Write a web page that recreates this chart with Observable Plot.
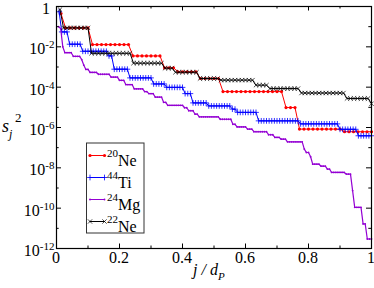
<!DOCTYPE html>
<html><head><meta charset="utf-8">
<script src="https://cdn.jsdelivr.net/npm/d3@7"></script>
<script src="https://cdn.jsdelivr.net/npm/@observablehq/plot@0.6"></script>
<style>html,body{margin:0;padding:0;background:#fff} svg{display:block}
svg text.serif, svg text.serif tspan{font-family:"Liberation Serif","Times New Roman",Times,serif !important;}
</style>
</head><body><div id="chart"></div>
<script>
// ---- data (values as log10 of s_j^2, run-length encoded: [count, exponent]) ----
const seriesNames = ["20Ne", "44Ti", "24Mg", "22Ne"];
const seriesMass = ["20", "44", "24", "22"];
const seriesElem = ["Ne", "Ti", "Mg", "Ne"];
const seriesColors = ["#ff0000", "#0000ff", "#9400d3", "#000000"];
const seriesDP = [70, 120, 150, 90];

const runs20Ne = [[1,-0.35],[6,-1.06],[9,-1.89],[7,-2.45],[3,-3.04],[5,-3.24],[5,-3.57],[14,-4.22],[3,-5.01],[10,-6.08],[7,-6.21]];
const runs44Ti = [[1,-0.26],[3,-1.26],[5,-1.87],[10,-2.22],[2,-2.45],[6,-3.11],[9,-3.54],[5,-3.84],[7,-4.01],[3,-4.32],[6,-4.78],[9,-4.93],[2,-5.09],[8,-5.25],[16,-5.67],[15,-5.82],[7,-6.09],[6,-6.41]];
const runs24Mg = [[1,-1.0],[1,-1.1],[1,-2.0],[4,-2.29],[4,-2.47],[1,-2.63],[1,-2.91],[2,-3.12],[4,-3.27],[6,-3.36],[4,-3.50],[3,-3.66],[4,-3.87],[5,-4.08],[2,-4.22],[3,-4.32],[4,-4.49],[2,-4.75],[8,-4.90],[2,-5.02],[3,-5.17],[2,-5.34],[10,-5.47],[6,-5.59],[2,-5.84],[5,-5.97],[3,-6.08],[7,-6.21],[3,-6.36],[3,-6.49],[3,-6.58],[8,-6.71],[1,-7.07],[2,-7.24],[1,-7.45],[4,-7.82],[3,-7.92],[2,-8.06],[7,-8.23],[3,-8.31],[1,-9.13],[4,-9.96],[2,-10.78],[3,-11.53]];
const runs22Ne = [[1,-0.15],[8,-1.06],[12,-2.32],[9,-2.81],[3,-3.06],[7,-3.26],[6,-3.57],[10,-3.65],[4,-3.90],[9,-4.07],[13,-4.29],[7,-4.56],[1,-4.82]];

const xMajorTicks = [0, 0.2, 0.4, 0.6, 0.8, 1];
const xMinorTicks = [0.1, 0.3, 0.5, 0.7, 0.9];
const xTickLabels = ["0", "0.2", "0.4", "0.6", "0.8", "1"];
const yMajorExps = [0, -2, -4, -6, -8, -10, -12];
const yMinorExps = [-1, -3, -5, -7, -9, -11];

// ---- layout ----
const W = 374, H = 288, mL = 56, mR = 3, mT = 6, mB = 40;
const innerW = W - mL - mR, innerH = H - mT - mB;
const SERIF = '"Liberation Serif","Times New Roman",Times,serif';

function expand(runs, n) {
  const out = []; let i = 0;
  for (const [c, e] of runs) for (let k = 0; k < c; k++) { i++; out.push({j: i / n, v: Math.pow(10, e)}); }
  return out;
}
const allRuns = [runs20Ne, runs44Ti, runs24Mg, runs22Ne];
const data = allRuns.map((r, s) => expand(r, seriesDP[s]));

// legend placement (pixel layout converted to data space)
const xInv = px => (px - mL) / innerW;
const yInv = py => Math.pow(10, -12 * (py - mT) / innerH);
const legendRowPx = [155, 177, 199, 221];
const legendLine = seriesNames.map((n, s) => [
  {j: xInv(89.5), v: yInv(legendRowPx[s])},
  {j: xInv(104), v: yInv(legendRowPx[s])}
]);

function seriesMarks(d, s) {
  const c = seriesColors[s];
  const marks = [Plot.line(d, {x: "j", y: "v", stroke: c, strokeWidth: s === 2 ? 1.2 : 1})];
  if (s === 0) marks.push(Plot.dot(d, {x: "j", y: "v", r: 1.6, fill: c}));
  if (s === 1) marks.push(Plot.dot(d, {x: "j", y: "v", symbol: "plus", r: 2.0, stroke: c, strokeWidth: 0.8}));
  if (s === 2) marks.push(Plot.dot(d, {x: "j", y: "v", r: 0.9, fill: c}));
  if (s === 3) marks.push(Plot.dot(d, {x: "j", y: "v", symbol: "times", r: 2.1, stroke: c, strokeWidth: 0.7}));
  return marks;
}

const order = [0, 1, 2, 3];
const svg = Plot.plot({
  width: W, height: H,
  marginLeft: mL, marginRight: mR, marginTop: mT, marginBottom: mB,
  style: {background: "white"},
  x: {domain: [0, 1], axis: null},
  y: {type: "log", domain: [1e-12, 1], axis: null},
  marks: [
    ...order.flatMap(s => seriesMarks(data[s], s)),
    // legend box
    Plot.rect([{x1: xInv(86.5), x2: xInv(144), y1: yInv(233), y2: yInv(143)}],
      {x1: "x1", x2: "x2", y1: "y1", y2: "y2", fill: "white", stroke: "#333", strokeWidth: 1}),
    ...order.flatMap(s => seriesMarks(legendLine[s], s)),
    // ticks (inward)
    Plot.ruleX(xMajorTicks, {stroke: "#000", insetTop: innerH - 4.5}),
    Plot.ruleX(xMinorTicks, {stroke: "#000", insetTop: innerH - 2.5}),
    Plot.ruleX(xMajorTicks, {stroke: "#000", insetBottom: innerH - 4.5}),
    Plot.ruleX(xMinorTicks, {stroke: "#000", insetBottom: innerH - 2.5}),
    Plot.ruleY(yMajorExps.map(e => Math.pow(10, e)), {stroke: "#000", insetRight: innerW - 5}),
    Plot.ruleY(yMinorExps.map(e => Math.pow(10, e)), {stroke: "#000", insetRight: innerW - 2.7}),
    Plot.ruleY(yMajorExps.map(e => Math.pow(10, e)), {stroke: "#000", insetLeft: innerW - 5}),
    Plot.ruleY(yMinorExps.map(e => Math.pow(10, e)), {stroke: "#000", insetLeft: innerW - 2.7}),
    Plot.frame({stroke: "#000", strokeWidth: 1.2})
  ]
});

// ---- text (tick labels, titles, legend labels) ----
const xs = svg.scale("x"), ys = svg.scale("y");
const T = d3.select(svg).append("g").style("font-family", SERIF).attr("fill", "#000").attr("text-anchor", "start");
const mk = (x, y, size, anchor) => T.append("text").attr("class", "serif").style("font-family", SERIF)
  .attr("x", x).attr("y", y).style("font-size", size + "px").attr("text-anchor", anchor || "start");

xMajorTicks.forEach((t, k) => {
  mk(xs.apply(t), 262.5, 16, "middle").text(xTickLabels[k]);
});

yMajorExps.forEach(e => {
  const y = ys.apply(Math.pow(10, e));
  if (e === 0) {
    mk(50, y + 7.5, 16, "end").text("1");
  } else {
    const t = mk(54.5, y + 8, 16, "end");
    t.append("tspan").text("10");
    t.append("tspan").attr("dy", -6).style("font-size", "11px").text(String(e));
  }
});

// x title: j / d_P
{
  const t = mk(193, 275, 16).style("font-style", "italic");
  t.append("tspan").text("j / d");
  t.append("tspan").attr("dy", 5).style("font-size", "11px").text("P");
}
// y title: s_j^2
{
  const t = mk(2, 131.5, 18).style("font-style", "italic");
  t.append("tspan").text("s");
  t.append("tspan").attr("dy", 6).style("font-size", "12px").text("j");
  t.append("tspan").attr("x", 15).attr("dy", -15.5).style("font-size", "13px").style("font-style", "normal").text("2");
}
// legend labels
seriesNames.forEach((n, s) => {
  const ly = legendRowPx[s];
  const t = mk(107, ly + 2, 11);
  t.append("tspan").text(seriesMass[s]);
  t.append("tspan").attr("dy", 9).style("font-size", "16px").text(seriesElem[s]);
});

document.getElementById("chart").appendChild(svg);
</script>
</body></html>
